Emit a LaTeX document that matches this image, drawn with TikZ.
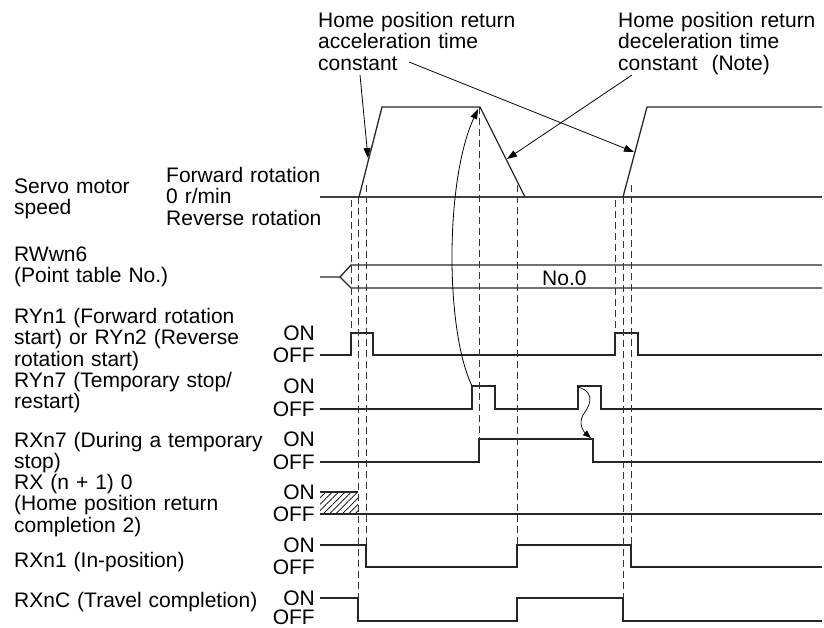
\documentclass[tikz,border=0pt]{standalone}
\usepackage{fontspec}
\setmainfont{Liberation Sans}
\usetikzlibrary{arrows.meta, patterns.meta}

\newcommand{\chartfont}{\fontsize{21}{21.5}\selectfont}

\begin{document}
\begin{tikzpicture}[x=1pt, y=-1pt,
  lbl/.style={anchor=base west, inner sep=0pt, font=\chartfont, align=left, text width=300pt},
  lvl/.style={anchor=east, inner sep=0pt, font=\chartfont},
  sig/.style={line width=1.3pt, black!85},
  guide/.style={line width=0.8pt, black!80, dash pattern=on 7pt off 4pt},
  callout/.style={line width=0.8pt, -{Triangle[length=10pt,width=7pt]}}
]
\useasboundingbox (0,0) rectangle (824,627);

% --- Notes on top ---
\node[lbl] (acc) at (318,27) {Home position return\\acceleration time\\constant};
\node[lbl] (dec) at (618,27) {Home position return\\deceleration time\\constant\ \ (Note)};

% --- Signal names ---
\node[lbl] (spd) at (14,193) {Servo motor\\speed};
\node[lbl] (dir) at (166,182) {Forward rotation\\0 r/min\\Reverse rotation};
\node[lbl] (rw6) at (14,261) {RWwn6\\(Point table No.)};
\node[lbl] (ry1) at (14,323) {RYn1 (Forward rotation\\start) or RYn2 (Reverse\\rotation start)};
\node[lbl] (ry7) at (14,387) {RYn7 (Temporary stop/\\restart)};
\node[lbl] (rx7) at (14,447) {RXn7 (During a temporary\\stop)};
\node[lbl] (rx10) at (14,489) {RX (n + 1) 0\\(Home position return\\completion 2)};
\node[lbl] (rx1) at (14,567) {RXn1 (In-position)};
\node[lbl] (rxc) at (14,607) {RXnC (Travel completion)};

% --- ON / OFF levels ---
\foreach \on/\off [count=\i] in {333/355, 386/409, 439/462, 492/514, 545/567, 598/617} {
  \node[lvl] (on\i) at (315,\on) {ON};
  \node[lvl] (off\i) at (315,\off) {OFF};
}

% --- Servo motor speed ---
\draw[sig, line width=1.6pt, black!75] (320,197) -- (822,197);
\draw[sig] (359,197) -- (382,107) -- (480,107) -- (525,197);
\draw[sig] (623,197) -- (647,107) -- (822,107);

% --- Point table No. ---
\draw[sig] (320,277) -- (340,277) -- (351,265) -- (822,265);
\draw[sig] (340,277) -- (351,288) -- (822,288);
\node[lbl, text width=] (no0) at (542,285) {No.0};

% --- Inputs and outputs ---
\draw[sig] (320,355) -- (351,355) -- (351,333) -- (373,333) -- (373,355) -- (615,355) -- (615,333) -- (638,333) -- (638,355) -- (822,355);
\draw[sig] (320,409) -- (472,409) -- (472,386) -- (495,386) -- (495,409) -- (578,409) -- (578,386) -- (601,386) -- (601,409) -- (822,409);
\draw[sig] (320,462) -- (479,462) -- (479,439) -- (593,439) -- (593,462) -- (822,462);
\fill[pattern={Lines[angle=45, distance=4.5pt, line width=0.7pt]}] (320,492) rectangle (358,514);
\draw[sig] (320,492) -- (358,492);
\draw[sig] (320,514) -- (822,514);
\draw[sig] (320,545) -- (366,545) -- (366,567) -- (517,567) -- (517,545) -- (631,545) -- (631,567) -- (822,567);
\draw[sig] (320,598) -- (358,598) -- (358,621) -- (517,621) -- (517,598) -- (623,598) -- (623,621) -- (822,621);

% --- Timing guides ---
\foreach \x/\ya/\yb in {351/200/333, 358/197/598, 366/185/545, 479/107/439, 517/185/545, 615/200/333, 623/197/598, 631/185/545} {
  \draw[guide] (\x,\ya) -- (\x,\yb);
}

% --- Callouts ---
\coordinate (accA) at (360,75);
\coordinate (accB) at (409,62);
\coordinate (decA) at (632,75);
\coordinate (up1) at (368,158);
\coordinate (up2) at (634,152);
\coordinate (down1) at (507,159);
\draw[callout] (accA) -- (up1);
\draw[callout] (accB) -- (up2);
\draw[callout] (decA) -- (down1);

\coordinate (stop1) at (472,386);
\coordinate (top1) at (478,109);
\coordinate (stop2) at (578,387);
\coordinate (fall7) at (591,438);
\draw[callout] (stop1) .. controls (445,330) and (445,180) .. (top1);
\draw[callout, line width=0.7pt, -{Triangle[length=8pt,width=6pt]}] (stop2) .. controls (598,393) and (588,408) .. (583,415) .. controls (578,424) and (584,432) .. (fall7);

\end{tikzpicture}
\end{document}
